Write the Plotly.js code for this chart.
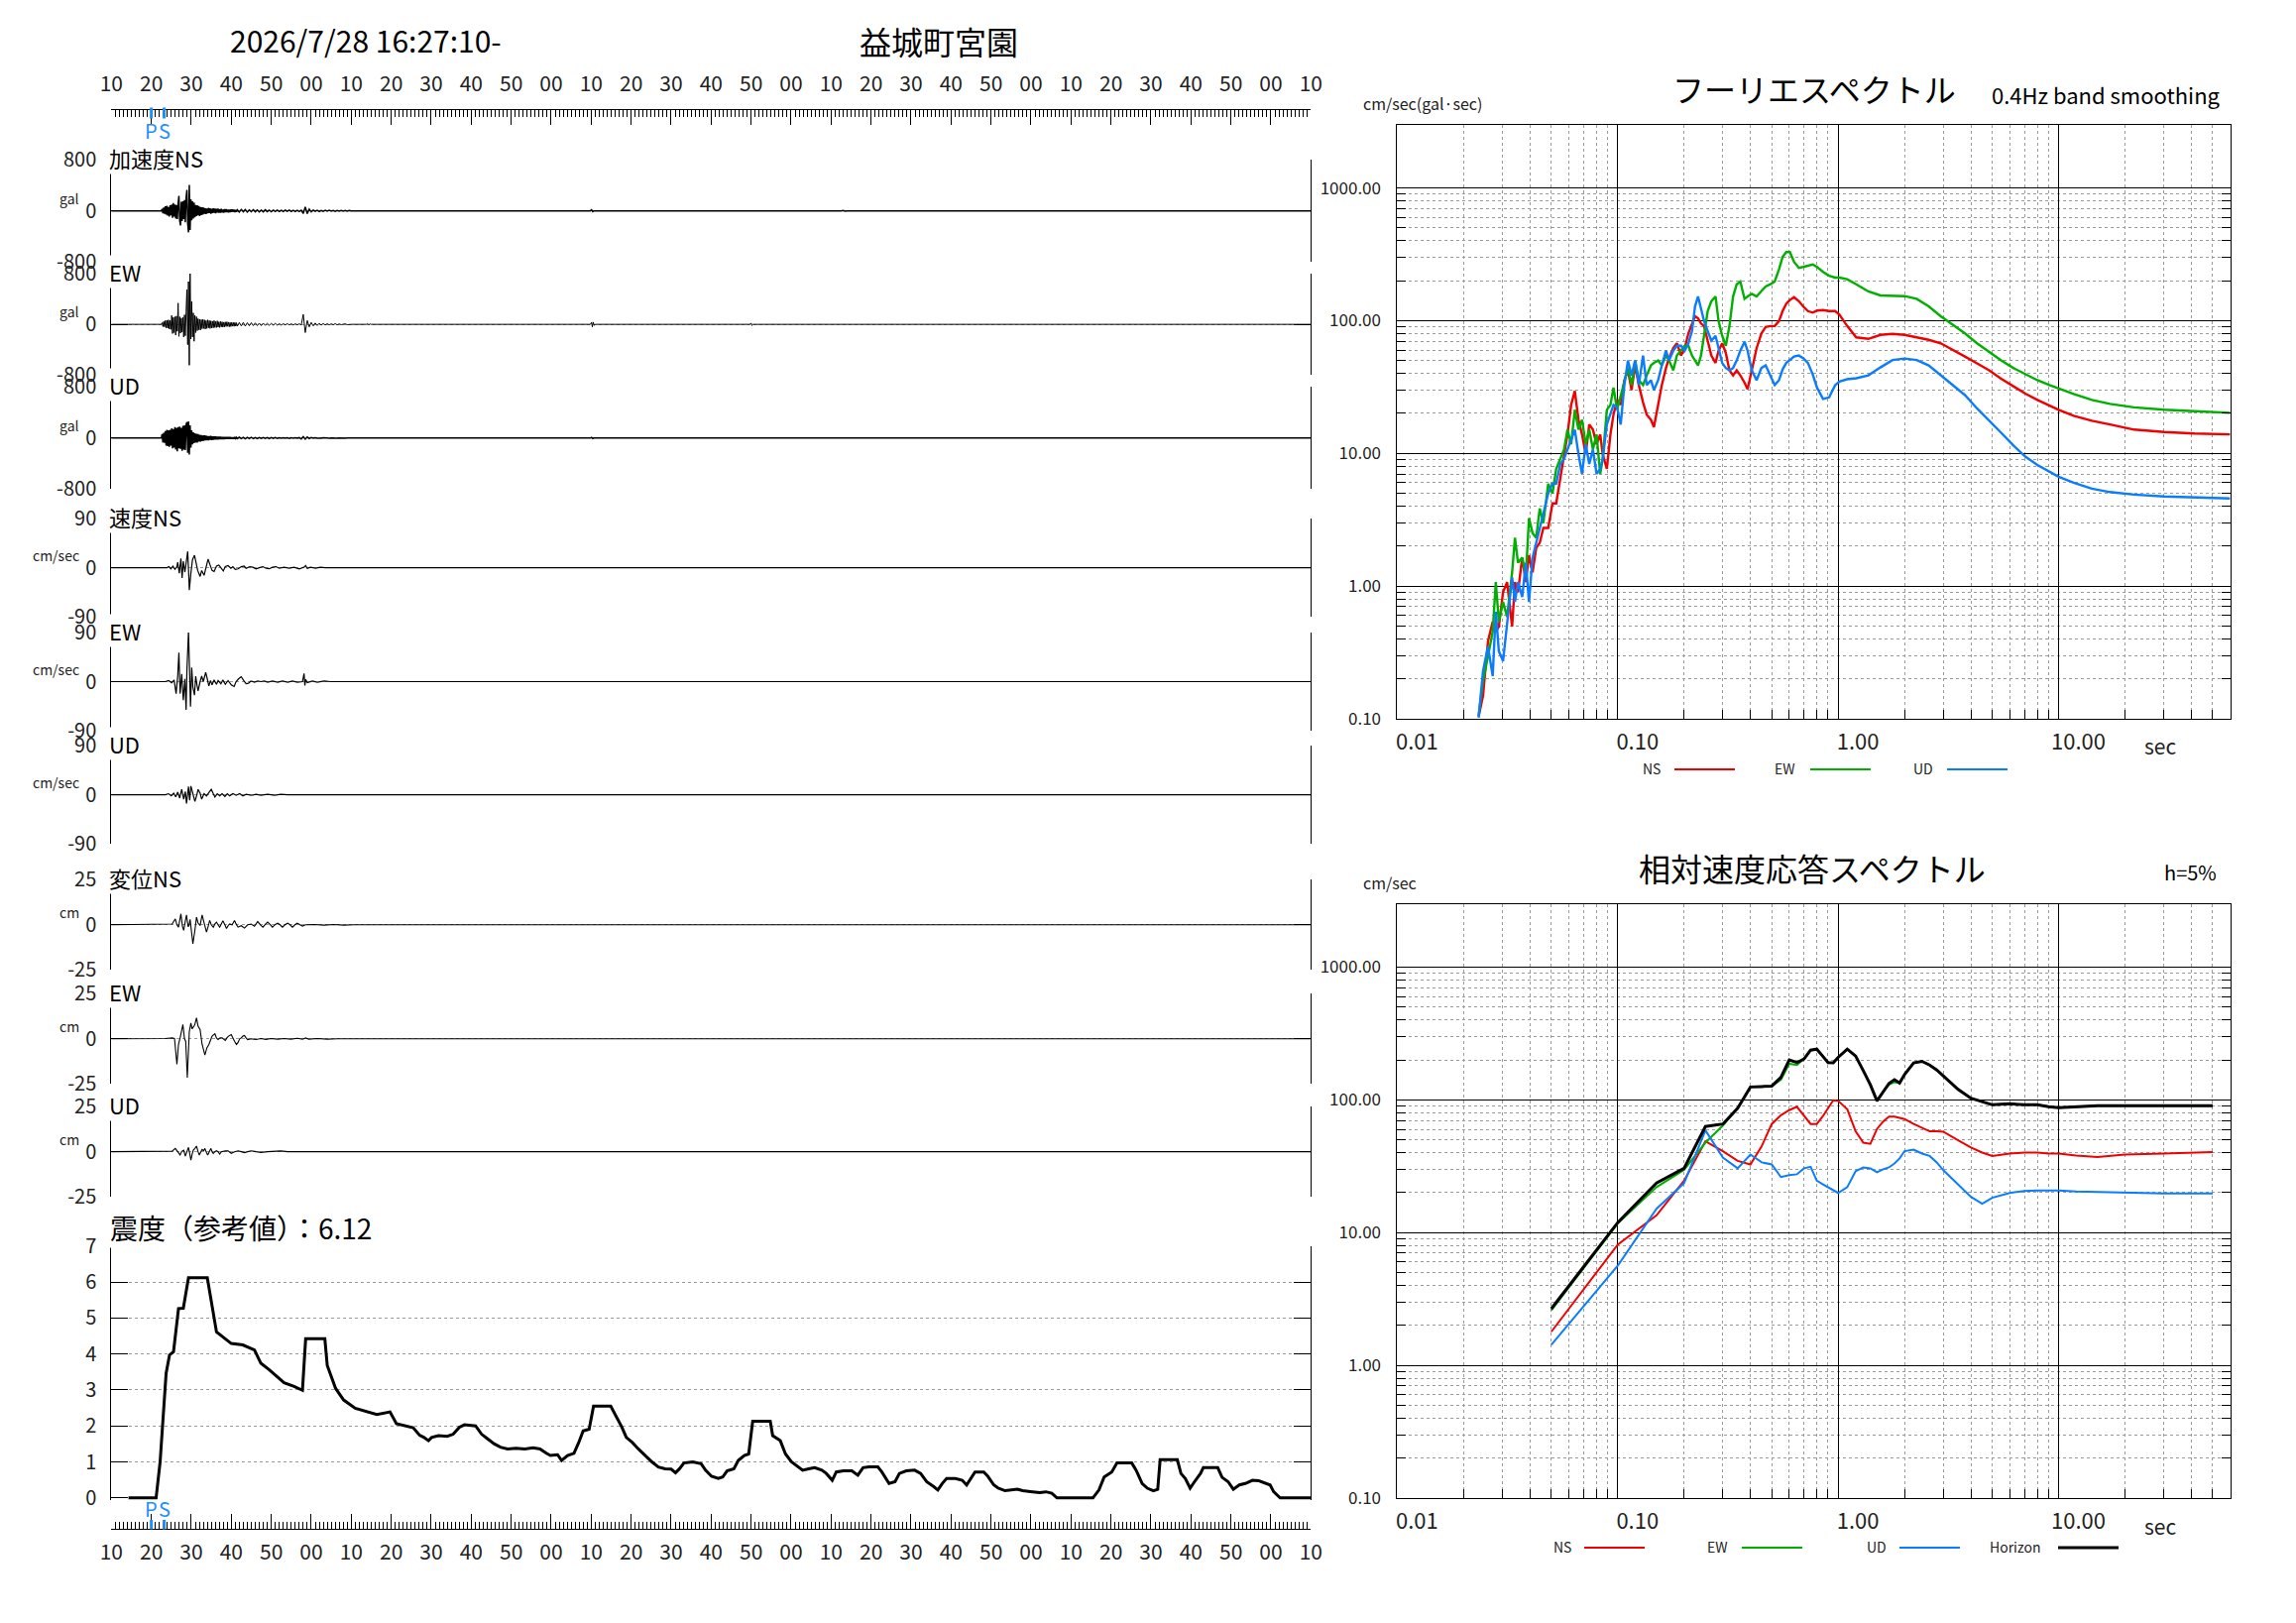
<!DOCTYPE html>
<html><head><meta charset="utf-8">
<script src="https://cdn.plot.ly/plotly-3.0.1.min.js"></script>
<style>html,body{margin:0;padding:0;background:#fff}</style>
</head><body><div id="chart" style="width:2316px;height:1637px"></div>
<script>
// ---------------- DATA ----------------
const recordSpan = [0, 300];               // seconds after 16:27:10
const timeTickVals = [0,10,20,30,40,50,60,70,80,90,100,110,120,130,140,150,160,170,180,190,200,210,220,230,240,250,260,270,280,290,300];
const timeTickText = ["10","20","30","40","50","00","10","20","30","40","50","00","10","20","30","40","50","00","10","20","30","40","50","00","10","20","30","40","50","00","10"];
const psTimes = [10.0, 13.2];
const psLabels = ["P", "S"];

// acceleration (gal): strong part sampled from 12.5 s every 0.2 s, coda from 31.5 s every 0.5 s
const accNS_strong = [0,30,-40,50,-45,70,-60,80,-75,60,-90,85,-70,100,-110,120,-90,100,-120,90,-130,110,233,-150,-230,140,-160,150,-130,170,-180,200,326,-200,-336,403,-300,180,-150,150,-120,130,-100,90,-80,85,-70,75,-80,60,-65,55,-60,50,-45,40,-50,35,-40,45,-35,40,-45,30,-35,40,-30,35,-40,30,-25,35,-30,25,-30,30,-25,20,-28,25,-20,25,-22,20,-25,18,-20,22,-18,20,-15,18,-20,15,-15];
const accNS_coda = [15,-18,20,-15,18,-20,15,-12,18,-15,14,-16,12,-15,16,-12,10,-14,12,-10,12,-10,8,-12,10,-8,12,-10,8,-10,8,-12,10,-40,60,-45,25,-15,10,-8,8,-10,6,-8,8,-6,8,-6,5,-8,6,-5,6,-4,5,-6,4,0];
const accNS_late_t = [119.8,120.1,120.4,120.7,182.5,183.0,183.5,184.0];
const accNS_late_v = [0,15,-12,0,0,6,-6,0];

const accEW_strong = [0,25,-35,45,-40,60,-55,65,-60,70,-75,60,-80,140,-145,110,-130,120,-170,130,-110,335,-190,120,-140,100,-120,110,-200,150,-180,200,550,-320,675,-645,830,-230,360,-200,180,-267,140,-130,120,-100,90,-85,80,-90,75,-70,80,-65,70,-75,60,-65,70,-55,60,-65,55,-60,50,-55,60,-50,45,-50,55,-45,40,-50,45,-40,40,-45,35,-40,38,-35,40,-32,35,-38,30,-35,32,-30,28,-32,30,-28,25];
const accEW_coda = [-30,28,-25,30,-28,25,-22,25,-20,22,-20,18,-20,18,-15,16,-15,14,-12,15,-12,10,-12,10,-8,10,-8,8,-10,8,-6,8,-10,157,-130,60,-40,30,-25,20,-18,15,-12,12,-10,10,-8,8,-6,10,-8,6,-5,0,8,-6,0,0];
const accEW_late_t = [63.8,64.1,64.4,64.7,65.0,119.8,120.1,120.3,120.5,120.8,121.1,159.7,160.0,160.2,160.5];
const accEW_late_v = [0,10,-8,6,0,0,30,-40,35,-15,0,0,20,-18,0];

const accUD_strong = [0,60,-70,80,-75,110,-120,130,-125,120,-140,130,-120,150,-160,140,-150,170,-180,160,-207,170,-160,180,-170,160,-200,190,-180,200,-190,210,250,-230,260,-260,200,-150,120,-100,90,-80,75,-70,65,-70,60,-55,50,-55,45,-50,40,-45,40,-35,38,-35,30,-35,30,-28,32,-30,25,-28,25,-22,25,-24,20,-22,20,-18,22,-20,18,-20,16,-18,15,-16,15,-14,15,-12,14,-12,12,-12,10,-12,10,-10,10];
const accUD_coda = [-10,12,-10,10,-12,10,-8,10,-8,8,-10,8,-6,8,-6,6,-8,6,-5,6,-5,5,-4,5,-4,4,-5,4,-3,4,-3,6,-15,20,-18,15,-10,6,-4,4,-3,3,-3,3,-2,2,-2,2,-2,2,-2,2,-2,2,-2,2,-2,0];
const accUD_late_t = [119.8,120.1,120.4,120.7];
const accUD_late_v = [0,10,-8,0];

// velocity (cm/sec)
const velNS_t = [13.9,14.4,14.9,15.4,15.9,16.4,16.6,17.0,17.4,17.7,18.0,18.4,18.9,19.1,19.4,19.5,19.9,20.3,20.8,21.1,21.6,22.2,22.6,23.2,23.8,24.2,24.7,25.2,25.7,26.3,26.9,27.5,28.0,28.5,29.2,29.9,30.4,31.0,31.7,32.5,33.2,33.7,34.6,35.4,36.2,37.0,37.9,38.7,39.5,40.3,41.2,42.0,43.2,44.5,45.7,47.0,48.2,48.6,49.0,49.8,51.1,52.3,53.5];
const velNS_v = [0,2,-2,3,-3,2,10,-10,17,-19,12,-8,20,30,-20,-41,-10,15,23,10,-5,-16,-5,-14,5,16,5,-5,-7,3,5,-2,-6,2,4,-1,2,-3,-2,2,3,-1,2,1,-2,0,2,-1,-2,1,2,-1,1,-1,1,-2,1,4,-1,1,-1,1,0];
const velEW_t = [13.5,14.3,15.1,15.7,16.2,16.6,16.9,17.2,17.6,18.0,18.4,18.7,18.9,19.3,19.6,19.8,20.1,20.4,20.8,21.1,21.4,21.7,22.2,22.6,23.0,23.6,24.0,24.4,24.8,25.2,25.7,26.3,26.7,27.4,27.9,28.5,29.2,30.0,30.7,31.2,31.8,32.5,33.1,33.7,34.3,34.9,35.8,36.6,37.4,38.3,39.1,40.3,41.6,42.8,44.1,45.3,46.5,47.8,48.2,48.4,48.6,49.0,50.3,51.5,53.2,54.8];
const velEW_v = [0,2,-2,3,-22,10,53,-22,14,-34,5,-52,20,93,-20,-46,26,-10,-25,10,-5,-17,0,10,0,17,5,-8,2,-6,3,-5,2,-4,3,-5,2,-6,-9,0,5,9,2,-4,-3,1,-1,1,0,1,-1,1,-1,1,-1,1,-1,0,15,-7,4,-2,1,-1,1,0];
const velUD_t = [13.5,14.3,15.0,15.6,16.1,16.6,17.1,17.6,18.1,18.5,18.8,19.3,19.6,19.9,20.4,20.9,21.4,21.7,22.2,22.6,23.2,23.8,24.4,25.0,25.5,25.9,26.5,27.1,27.7,28.4,29.0,29.6,30.4,31.2,32.1,32.9,33.7,35.0,36.2,37.4,39.1,40.8,42.4,44.1];
const velUD_v = [0,2,-2,3,-4,5,-6,10,-8,6,-16,15,-10,16,2,-12,0,10,3,-8,2,-2,4,10,2,-4,2,-2,2,-3,2,-2,2,-1,2,-2,1,-1,1,-1,1,-1,1,0];

// displacement (cm)
const dispNS_t = [9.4,13.5,14.3,15.2,16.0,16.4,16.8,17.4,17.8,18.1,18.5,18.8,19.2,19.4,19.7,20.0,20.4,20.9,21.3,21.7,22.2,22.7,23.2,23.8,24.2,24.6,25.0,25.5,25.9,26.3,26.7,27.1,27.5,27.9,28.4,28.8,29.2,29.6,30.2,30.8,31.2,31.7,32.5,33.3,34.1,35.0,35.8,36.6,37.3,37.9,38.5,39.1,39.8,40.3,41.0,41.6,42.2,42.8,43.4,44.1,44.7,45.3,45.9,46.5,47.2,47.8,48.6,50.7,53.2,55.6,58.1,60.6];
const dispNS_v = [0,0.2,0,0.4,3.3,0,-1.3,6.1,-1,-3.1,2,5.5,-1,-0.5,3,-4,-10.5,-3,4.2,1,-0.4,5.5,1,-4,-1,2.4,0,-1.3,0.5,1.5,0,-1.3,0.5,2.2,0,-2,-0.5,0.5,0,2.4,0.5,-1.3,-0.5,-1.8,0,0.4,-0.8,1.8,0,-1.3,0.2,1.5,0,-1.3,0.2,0.9,0,-1.3,0,0.9,0,-1.3,0,0.9,0,-0.7,0,0.2,-0.2,0.2,-0.2,0];
const dispEW_t = [9.4,13.5,15.2,15.8,16.4,16.8,17.2,17.5,17.9,18.3,18.6,19.0,19.3,19.5,19.9,20.2,20.6,20.9,21.3,21.7,22.2,22.7,23.4,23.9,24.4,24.8,25.2,25.9,26.3,26.7,27.2,27.7,28.1,28.5,28.9,29.3,30.0,30.4,30.8,31.3,31.7,32.1,32.5,32.9,33.3,33.7,34.1,35.0,36.2,37.4,38.7,39.9,41.6,43.2,44.9,46.5,47.8,48.6,49.4,51.5,54.0,56.5];
const dispEW_v = [0,0.2,0.5,0.2,-14.1,-3,0.5,3,7.9,0,-1.3,-21.5,-5,3.9,8.8,5.5,6.8,8,11.6,7,5.1,-3,-9,-5,-3.1,-0.5,1.5,2.8,0.5,-0.4,0.5,0.5,-0.4,-0.9,0.5,1.5,2.4,0,-1.3,-3.1,-2,0,0.5,1.5,1.8,0.5,-0.4,0,-0.4,0.2,-0.3,0.2,-0.2,0.2,-0.2,0.3,-0.2,0.5,-0.2,0.2,-0.2,0];
const dispUD_t = [9.4,13.5,15.2,16.0,16.6,17.2,17.6,18.1,18.5,18.9,19.3,19.6,19.9,20.2,20.5,20.9,21.3,21.7,22.0,22.4,22.7,23.1,23.4,23.7,24.1,24.5,24.9,25.2,25.5,25.9,26.3,26.7,27.1,27.5,27.9,28.5,29.2,29.6,30.0,30.8,31.7,32.5,33.3,34.1,35.0,36.2,37.4,39.1,42.4,44.1];
const dispUD_v = [0,0.2,0.3,1.8,0.3,-1.8,0.2,0.9,-2.4,0,2.4,-1,-4.6,-1.5,0.9,1.8,3.1,0,-1.8,0,1.3,0.5,1.8,0,-1.8,0,1.8,0,-0.9,0,0.5,0,-1.3,0,0,0.4,0.5,0,-0.9,0,0.5,0,-0.5,0,0.5,0,-0.4,0,0.4,0];

// seismic intensity (reference)
const shindoTime = [4.3,11.2,12.2,13.2,13.7,14.55,15.55,16.8,18.0,19.3,24.0,26.3,28.4,30.0,32.9,35.8,37.4,39.5,43.2,45.7,47.8,48.6,53.4,54.0,56.1,58.1,61.0,66.4,69.7,71.3,75.5,77.1,78.2,79.3,80.1,81.8,84.0,85.5,87.0,88.3,91.1,92.6,94.1,95.8,97.3,99.1,101.2,103.4,105.5,107.2,108.8,109.8,111.6,112.6,114.1,115.7,116.9,118.0,119.5,120.6,124.9,126.2,127.7,128.8,130.3,131.8,133.5,135.2,136.8,138.5,140.0,141.1,142.1,143.2,145.4,147.5,148.6,150.1,151.8,152.9,154.0,155.7,156.8,158.3,159.4,160.4,164.8,165.4,167.3,168.6,170.1,171.6,172.9,174.4,175.9,177.7,178.8,180.3,181.3,183.1,185.2,186.7,188.0,189.5,191.7,192.7,194.5,196.0,197.1,198.8,200.9,202.4,203.9,205.7,206.7,207.8,208.9,211.1,212.8,213.9,214.9,216.0,218.2,219.2,220.7,221.8,223.5,225.1,226.6,227.9,229.4,230.4,232.2,233.7,235.2,236.5,245.5,247.0,248.3,250.2,251.5,255.2,256.3,257.8,259.1,260.6,261.7,262.3,266.6,267.5,268.6,269.8,270.9,272.4,273.1,276.7,277.8,279.3,280.6,282.1,283.6,285.4,286.9,288.7,289.8,290.7,292.3,300];
const shindoValue = [0,0,1.0,2.69,3.46,3.97,4.06,5.26,5.27,6.12,6.12,4.61,4.42,4.29,4.25,4.11,3.74,3.56,3.20,3.10,2.99,4.42,4.42,3.68,3.04,2.72,2.49,2.32,2.39,2.06,1.95,1.74,1.68,1.59,1.68,1.73,1.71,1.77,1.96,2.03,2.0,1.77,1.64,1.5,1.41,1.36,1.38,1.36,1.39,1.36,1.24,1.18,1.20,1.04,1.18,1.24,1.54,1.86,1.91,2.55,2.55,2.28,1.96,1.68,1.54,1.36,1.18,1.0,0.86,0.81,0.80,0.70,0.81,0.97,1.0,0.95,0.77,0.60,0.54,0.58,0.75,0.81,1.04,1.18,1.22,2.13,2.13,1.73,1.59,1.22,1.0,0.88,0.77,0.81,0.84,0.77,0.68,0.49,0.72,0.75,0.75,0.63,0.84,0.86,0.86,0.72,0.40,0.45,0.68,0.75,0.77,0.68,0.45,0.31,0.22,0.40,0.54,0.54,0.49,0.36,0.54,0.72,0.72,0.60,0.36,0.27,0.20,0.22,0.24,0.20,0.17,0.17,0.15,0.17,0.13,0,0,0.22,0.58,0.72,0.97,0.97,0.77,0.40,0.27,0.20,0.24,1.06,1.06,0.68,0.54,0.27,0.45,0.68,0.84,0.84,0.57,0.45,0.24,0.36,0.40,0.49,0.48,0.40,0.36,0.17,0,0];
const shindoTitle = "震度（参考値）：6.12";

// Fourier spectrum (cm/sec), 0.4 Hz band smoothing
const fourierPeriod = [0.0234,0.0245,0.0258,0.0271,0.0280,0.0289,0.0302,0.0315,0.0332,0.0342,0.0353,0.0369,0.0383,0.0396,0.0411,0.0427,0.0443,0.0460,0.0484,0.0506,0.0526,0.0549,0.0571,0.0592,0.0615,0.0639,0.0664,0.0689,0.0716,0.0743,0.0772,0.0802,0.0833,0.0855,0.0893,0.0927,0.0957,0.0994,0.1032,0.1072,0.1113,0.1156,0.1200,0.1247,0.1303,0.1354,0.1415,0.1460,0.1526,0.1585,0.1656,0.1710,0.1787,0.1856,0.1939,0.2014,0.2092,0.2173,0.2243,0.2314,0.2388,0.2465,0.2560,0.2659,0.2779,0.2868,0.2979,0.3094,0.3213,0.3337,0.3466,0.3600,0.3762,0.3883,0.4058,0.4266,0.4486,0.4690,0.4931,0.5155,0.5391,0.5598,0.5814,0.6038,0.6310,0.6634,0.6936,0.7293,0.7668,0.8017,0.8541,0.9098,0.9690,1.013,1.099,1.208,1.371,1.555,1.764,2.001,2.270,2.575,2.921,3.314,3.759,4.265,4.838,5.488,6.226,7.063,8.013,9.090,10.0,11.70,14.15,17.10,21.99,30.15,41.33,60.0];
const fourierNS = [0.104,0.149,0.383,0.539,0.454,0.495,0.900,1.07,0.495,1.07,0.900,1.64,1.07,1.71,1.27,1.94,2.12,2.74,2.74,4.20,4.20,6.43,9.06,13.9,23.2,29.5,17.9,13.9,9.87,16.5,15.1,11.7,13.9,9.87,7.63,13.9,19.6,25.3,23.2,35.6,42.2,30.0,46.0,32.7,24.2,19.6,17.9,15.8,23.2,32.7,44.0,52.3,62.0,67.5,54.6,62.0,80.1,95.1,108,104,95.1,91.1,70.5,54.6,48.0,59.4,67.5,56.9,42.2,38.7,42.2,38.7,34.1,30.5,42.2,62.0,80.1,89.6,91.1,91.1,99.2,118,134,143,150,140,128,118,115,119,120,118,118,111,91.1,74.8,72.9,78.1,79.4,78.1,74.8,71.7,67.5,60.4,53.6,47.6,42.2,36.5,32.1,28.2,25.3,22.8,21.3,19.2,17.6,16.5,15.1,14.5,14.1,13.9];
const fourierEW = [0.106,0.193,0.296,0.454,1.07,0.539,0.759,0.587,1.27,2.31,1.50,1.64,1.16,3.25,2.51,2.31,3.85,2.98,5.91,4.98,7.63,9.06,10.7,15.1,11.7,21.3,15.1,17.9,11.7,15.1,10.7,13.9,7.01,9.06,21.3,23.2,31.3,21.3,27.5,35.6,44.0,32.7,50.1,35.6,32.7,38.7,46.0,48.0,50.1,46.0,54.6,50.1,42.2,54.6,59.4,64.7,64.7,54.6,50.1,46.0,54.6,76.8,118,140,152,99.2,76.8,64.7,91.1,152,188,197,146,152,159,152,166,181,188,197,244,302,329,329,277,250,254,259,265,254,233,218,211,211,205,188,166,155,153,153,146,128,108,92.7,80.1,67.5,57.9,50.1,44.0,39.4,35.6,32.7,30.8,28.0,25.3,23.6,22.2,21.3,20.8,20.2];
const fourierUD = [0.102,0.229,0.351,0.210,0.640,0.323,0.272,0.539,1.16,0.759,1.07,0.827,1.50,0.759,1.64,2.12,2.74,3.54,4.98,5.91,5.91,8.31,9.06,10.7,12.7,15.1,9.87,7.01,11.7,8.31,10.7,7.01,7.63,9.06,16.5,19.6,23.2,22.2,16.5,32.7,50.1,38.7,50.1,32.7,54.6,32.7,35.6,30.0,35.6,46.0,59.4,50.1,59.4,64.7,64.7,59.4,67.5,83.6,128,152,123,99.2,83.6,70.5,76.8,62.0,48.0,44.0,42.2,44.0,50.1,59.4,69.3,59.4,42.2,35.6,44.0,46.0,38.7,32.7,35.6,42.9,48.0,50.9,53.6,54.6,52.3,48.0,39.4,31.3,25.7,26.4,32.7,34.7,36.2,36.8,38.7,44.4,50.5,51.8,50.5,46.0,38.7,32.9,27.5,21.8,17.5,14.3,11.5,9.45,8.17,7.25,6.66,6.01,5.42,5.11,4.89,4.73,4.65,4.57];

// relative velocity response spectrum (cm/sec), h=5%
const respPeriod = [0.05,0.1,0.15,0.2,0.25,0.3,0.35,0.4,0.45,0.5,0.55,0.6,0.65,0.7,0.75,0.8,0.85,0.9,0.95,1.0,1.1,1.2,1.3,1.4,1.5,1.6,1.7,1.8,1.9,2.0,2.2,2.4,2.6,2.8,3.0,3.5,4.0,4.5,5.0,6,7,8,9,10,12,15,20,30,40,50];
const respNS = [1.79,8.11,13.5,24.6,48.8,41.1,34.7,32.6,44.8,65.8,76.7,83.6,88.7,76.7,65.8,65.8,74.8,86.5,99.2,98.3,85.0,57.9,47.6,46.7,60.4,68.7,74.8,74.8,73.5,71.7,65.8,61.4,57.9,57.9,57.6,49.6,43.7,40.1,37.8,39.4,40.1,40.1,39.4,39.4,38.1,37.1,38.7,39.4,40.1,40.4];
const respEW = [2.60,11.7,22.0,29.7,47.6,64.1,86.5,125,126,127,142,187,183,203,237,241,214,191,190,209,241,214,166,130,98.3,115,130,136,134,155,190,195,183,168,152,120,103,96.6,91.8,93.4,91.8,91.8,88.7,87.2,88.7,90.3,90.3,90.3,90.3,90.3];
const respUD = [1.43,5.62,15.1,23.6,58.9,36.8,30.5,38.7,33.8,32.6,26.2,27.1,27.5,30.5,31.3,24.6,23.2,22.0,20.9,19.9,22.0,29.0,31.0,30.5,28.5,30.0,31.0,33.2,36.2,41.1,42.2,39.4,37.8,33.8,29.5,23.2,18.6,16.5,18.3,19.9,20.6,20.8,20.8,20.8,20.4,20.2,19.9,19.7,19.7,19.7];
const respH = [2.67,11.9,23.6,30.5,63.0,65.8,86.5,125,126,127,148,200,191,203,237,241,214,191,190,209,241,214,166,130,98.3,115,133,142,134,155,190,195,183,168,152,120,103,96.6,91.8,93.4,91.8,91.8,88.7,87.2,88.7,90.3,90.3,90.3,90.3,90.3];

const logTickVals = [0.01, 0.1, 1, 10];
const logTickText = ["0.01", "0.10", "1.00", "10.00"];
const ampTickVals = [0.1, 1, 10, 100, 1000];
const ampTickText = ["0.10", "1.00", "10.00", "100.00", "1000.00"];

// ---------------- LAYOUT HELPERS ----------------
const W = 2316, H = 1637;
const F = '"Noto Sans CJK JP", "Noto Sans", sans-serif';
const PX = x => x / W, PY = y => 1 - y / H;
const RED = '#f00000', GREEN = '#00b000', BLUE = '#0a7cff', BLACK = '#000000', PSBLUE = '#1f8fff';
const XL = 112.3, XR = 1322.3;

function uniform(x0, dx, vals) { return { x: vals.map((_, i) => +(x0 + i * dx).toFixed(3)), y: vals }; }
function pairs(t, v) { return { x: t, y: v }; }
function record(parts) {
  const x = [recordSpan[0]], y = [0];
  parts.forEach(p => { x.push(...p.x); y.push(...p.y); });
  x.push(recordSpan[1]); y.push(0);
  return { x, y };
}

const waveData = [
  record([uniform(12.5, 0.2, accNS_strong), uniform(31.5, 0.5, accNS_coda), pairs(accNS_late_t, accNS_late_v)]),
  record([uniform(12.5, 0.2, accEW_strong), uniform(31.5, 0.5, accEW_coda), pairs(accEW_late_t, accEW_late_v)]),
  record([uniform(12.5, 0.2, accUD_strong), uniform(31.5, 0.5, accUD_coda), pairs(accUD_late_t, accUD_late_v)]),
  record([pairs(velNS_t, velNS_v)]),
  record([pairs(velEW_t, velEW_v)]),
  record([pairs(velUD_t, velUD_v)]),
  record([pairs(dispNS_t, dispNS_v)]),
  record([pairs(dispEW_t, dispEW_v)]),
  record([pairs(dispUD_t, dispUD_v)])
];

const wavePanels = [
  { top: 161, bot: 264.3, lim: 800, label: '加速度NS', unit: 'gal', w: 1.5 },
  { top: 276, bot: 378.3, lim: 800, label: 'EW', unit: 'gal', w: 1.0 },
  { top: 390.3, bot: 493.3, lim: 800, label: 'UD', unit: 'gal', w: 1.5 },
  { top: 523.3, bot: 622, lim: 90, label: '速度NS', unit: 'cm/sec', w: 1.2 },
  { top: 638, bot: 737, lim: 90, label: 'EW', unit: 'cm/sec', w: 1.2 },
  { top: 752.3, bot: 851, lim: 90, label: 'UD', unit: 'cm/sec', w: 1.2 },
  { top: 887.3, bot: 978.3, lim: 25, label: '変位NS', unit: 'cm', w: 1.1 },
  { top: 1002.3, bot: 1093.3, lim: 25, label: 'EW', unit: 'cm', w: 1.1 },
  { top: 1116, bot: 1207.3, lim: 25, label: 'UD', unit: 'cm', w: 1.1 }
];

const traces = [];
const layout = {
  width: W, height: H, margin: { l: 0, r: 0, t: 0, b: 0 },
  paper_bgcolor: '#fff', plot_bgcolor: 'rgba(0,0,0,0)',
  showlegend: false, font: { family: F, color: '#000' },
  annotations: [], shapes: []
};
const ann = (text, x, y, size, extra) => Object.assign({
  text, x: PX(x), y: PY(y), xref: 'paper', yref: 'paper', showarrow: false,
  font: { family: F, size, color: '#000' }, xanchor: 'center', yanchor: 'middle'
}, extra || {});

const timeAxisBase = {
  domain: [PX(XL), PX(XR)], range: recordSpan.slice(), fixedrange: true,
  showline: true, linecolor: '#000', linewidth: 1, ticks: 'inside', ticklen: 15, tickwidth: 1, tickcolor: '#000',
  tickmode: 'array', tickvals: timeTickVals, ticktext: timeTickText,
  tickfont: { family: F, size: 21, color: '#222' },
  minor: { tickmode: 'linear', tick0: 0, dtick: 1, ticks: 'inside', ticklen: 7, tickwidth: 1, tickcolor: '#000', showgrid: false },
  showgrid: false, zeroline: false
};

wavePanels.forEach((p, i) => {
  const n = i + 1;
  const xid = n === 1 ? 'x' : 'x' + n, yid = n === 1 ? 'y' : 'y' + n;
  const xkey = n === 1 ? 'xaxis' : 'xaxis' + n, ykey = n === 1 ? 'yaxis' : 'yaxis' + n;
  traces.push({ type: 'scatter', mode: 'lines', x: waveData[i].x, y: waveData[i].y, xaxis: xid, yaxis: yid,
    line: { color: '#000', width: p.w }, hoverinfo: 'skip' });
  if (n === 1) {
    layout[xkey] = Object.assign({}, timeAxisBase, { anchor: 'free', position: PY(110), side: 'top', ticklabelstandoff: 10 });
  } else {
    layout[xkey] = { domain: [PX(XL), PX(XR)], range: recordSpan.slice(), anchor: yid, visible: false, fixedrange: true };
  }
  layout[ykey] = {
    domain: [PY(p.bot), PY(p.top)], range: [-p.lim, p.lim], anchor: xid, fixedrange: true,
    showline: true, mirror: 'ticks', linecolor: '#000', linewidth: 1,
    ticks: 'inside', ticklen: 17, tickwidth: 1, tickcolor: '#000',
    tickmode: 'array', tickvals: [-p.lim, 0, p.lim], ticktext: ['-' + p.lim, '0', String(p.lim)],
    tickfont: { family: F, size: 20, color: '#222' }, ticklabelstandoff: 10,
    showgrid: true, gridcolor: '#9a9a9a', griddash: 'dot', gridwidth: 1, zeroline: false
  };
  const zeroY = (p.top + p.bot) / 2;
  layout.annotations.push(ann(p.label, 109, p.top - 2, 22, { xanchor: 'left', bgcolor: '#fff', borderpad: 0 }));
  layout.annotations.push(ann(p.unit, 82, zeroY - 13, 14, { xanchor: 'right', font: { family: F, size: 14, color: '#222' } }));
});

// intensity panel
traces.push({ type: 'scatter', mode: 'lines', x: shindoTime, y: shindoValue, xaxis: 'x10', yaxis: 'y10',
  line: { color: '#000', width: 3 }, hoverinfo: 'skip' });
layout.xaxis10 = Object.assign({}, timeAxisBase, { anchor: 'free', position: PY(1542.4), side: 'bottom', ticklabelstandoff: 4 });
layout.yaxis10 = {
  domain: [PY(1513), PY(1256.7)], range: [-0.06, 7], anchor: 'x10', fixedrange: true,
  showline: true, mirror: 'ticks', linecolor: '#000', linewidth: 1,
  ticks: 'inside', ticklen: 17, tickwidth: 1, tickcolor: '#000',
  tickmode: 'array', tickvals: [0, 1, 2, 3, 4, 5, 6, 7], ticktext: ['0', '1', '2', '3', '4', '5', '6', '7'],
  tickfont: { family: F, size: 20, color: '#222' }, ticklabelstandoff: 10,
  showgrid: false, zeroline: false,
  minor: { tickmode: 'array', tickvals: [1, 2, 3, 4, 5, 6, 7], ticks: '', showgrid: true, gridcolor: '#9a9a9a', griddash: 'dot', gridwidth: 1 }
};
layout.annotations.push(ann(shindoTitle, 110, 1238, 28, { xanchor: 'left', bgcolor: '#fff', borderpad: 0 }));

// P / S marks on both time axes
psTimes.forEach((t, k) => {
  layout.shapes.push({ type: 'line', xref: 'x', yref: 'paper', x0: t, x1: t, y0: PY(108.5), y1: PY(119.5), line: { color: PSBLUE, width: 3 } });
  layout.shapes.push({ type: 'line', xref: 'x10', yref: 'paper', x0: t, x1: t, y0: PY(1533), y1: PY(1542.5), line: { color: PSBLUE, width: 3 } });
  layout.annotations.push({ text: psLabels[k], x: t, xref: 'x', y: PY(132), yref: 'paper', showarrow: false, xanchor: 'center', yanchor: 'middle', font: { family: F, size: 20, color: PSBLUE } });
  layout.annotations.push({ text: psLabels[k], x: t, xref: 'x10', y: PY(1521), yref: 'paper', showarrow: false, xanchor: 'center', yanchor: 'middle', font: { family: F, size: 20, color: PSBLUE } });
});

// main titles
layout.annotations.push(ann('2026/7/28 16:27:10-', 368.5, 40, 30));
layout.annotations.push(ann('益城町宮園', 947, 41, 32));

// ---------------- spectra ----------------
function minorLog(e0, e1, maxV) {
  const out = [];
  for (let e = e0; e < e1; e++) for (let m = 2; m <= 9; m++) { const v = +(m * Math.pow(10, e)).toPrecision(3); if (v <= maxV) out.push(v); }
  return out;
}
function specAxes(xk, yk, xid, yid, top, bot) {
  layout[xk] = {
    type: 'log', domain: [PX(1409.4), PX(2249.6)], range: [-2, Math.log10(60)], anchor: yid, fixedrange: true,
    showline: true, mirror: true, linecolor: '#000', linewidth: 1,
    ticks: 'inside', ticklen: 9, tickcolor: '#000',
    tickmode: 'array', tickvals: logTickVals, ticktext: logTickText,
    tickfont: { family: F, size: 22, color: '#222' }, ticklabelshift: 20, ticklabelstandoff: 4,
    showgrid: true, gridcolor: '#000', gridwidth: 1, zeroline: false,
    minor: { tickmode: 'array', tickvals: minorLog(-2, 2, 60), ticks: 'inside', ticklen: 9, tickcolor: '#000', tickwidth: 1, showgrid: true, gridcolor: '#9a9a9a', griddash: 'dot', gridwidth: 1 }
  };
  layout[yk] = {
    type: 'log', domain: [PY(bot), PY(top)], range: [-1, 3.477], anchor: xid, fixedrange: true,
    showline: true, mirror: 'allticks', linecolor: '#000', linewidth: 1,
    ticks: 'inside', ticklen: 9, tickcolor: '#000',
    tickmode: 'array', tickvals: ampTickVals, ticktext: ampTickText,
    tickfont: { family: F, size: 17, color: '#222' }, ticklabelstandoff: 12,
    showgrid: true, gridcolor: '#000', gridwidth: 1, zeroline: false,
    minor: { tickmode: 'array', tickvals: minorLog(-1, 3, 900), ticks: 'inside', ticklen: 9, tickcolor: '#000', tickwidth: 1, showgrid: true, gridcolor: '#9a9a9a', griddash: 'dot', gridwidth: 1 }
  };
}
specAxes('xaxis11', 'yaxis11', 'x11', 'y11', 125.7, 725);
specAxes('xaxis12', 'yaxis12', 'x12', 'y12', 911.6, 1511);

[[fourierNS, RED], [fourierEW, GREEN], [fourierUD, BLUE]].forEach(([v, c]) => {
  traces.push({ type: 'scatter', mode: 'lines', x: fourierPeriod, y: v, xaxis: 'x11', yaxis: 'y11', line: { color: c, width: 2.4 }, hoverinfo: 'skip' });
});
[[respNS, RED, 2], [respEW, GREEN, 2], [respUD, BLUE, 2], [respH, BLACK, 3]].forEach(([v, c, w]) => {
  traces.push({ type: 'scatter', mode: 'lines', x: respPeriod, y: v, xaxis: 'x12', yaxis: 'y12', line: { color: c, width: w }, hoverinfo: 'skip' });
});

// spectrum texts
layout.annotations.push(ann('フーリエスペクトル', 1830, 89, 32));
layout.annotations.push(ann('0.4Hz band smoothing', 2242, 95, 22, { xanchor: 'right' }));
layout.annotations.push(ann('cm/sec(gal·sec)', 1373, 104, 16, { xanchor: 'left', font: { family: F, size: 16, color: '#222' } }));
layout.annotations.push(ann('sec', 2179, 752, 21, { font: { family: F, size: 21, color: '#222' } }));
layout.annotations.push(ann('相対速度応答スペクトル', 1828, 875, 32));
layout.annotations.push(ann('h=5%', 2238, 880, 20, { xanchor: 'right' }));
layout.annotations.push(ann('cm/sec', 1373, 890, 16, { xanchor: 'left', font: { family: F, size: 16, color: '#222' } }));
layout.annotations.push(ann('sec', 2179, 1539, 21, { font: { family: F, size: 21, color: '#222' } }));

// legends
const legendFourier = [['NS', RED, 1666, 1689, 1750, 2], ['EW', GREEN, 1801, 1826, 1887, 2], ['UD', BLUE, 1940, 1964, 2025, 2]];
const legendResp = [['NS', RED, 1576, 1598, 1659, 2], ['EW', GREEN, 1732, 1757, 1818, 2], ['UD', BLUE, 1893, 1916, 1977, 2], ['Horizon', BLACK, 2032, 2076, 2137, 3]];
[[legendFourier, 775], [legendResp, 1560]].forEach(([items, y]) => {
  items.forEach(([name, c, tx, l0, l1, w]) => {
    layout.annotations.push(ann(name, tx, y, 14, { font: { family: F, size: 14, color: '#222' } }));
    layout.shapes.push({ type: 'line', xref: 'paper', yref: 'paper', x0: PX(l0), x1: PX(l1), y0: PY(y + 1), y1: PY(y + 1), line: { color: c, width: w } });
  });
});

Plotly.newPlot('chart', traces, layout, { displayModeBar: false, staticPlot: true });
</script></body></html>
